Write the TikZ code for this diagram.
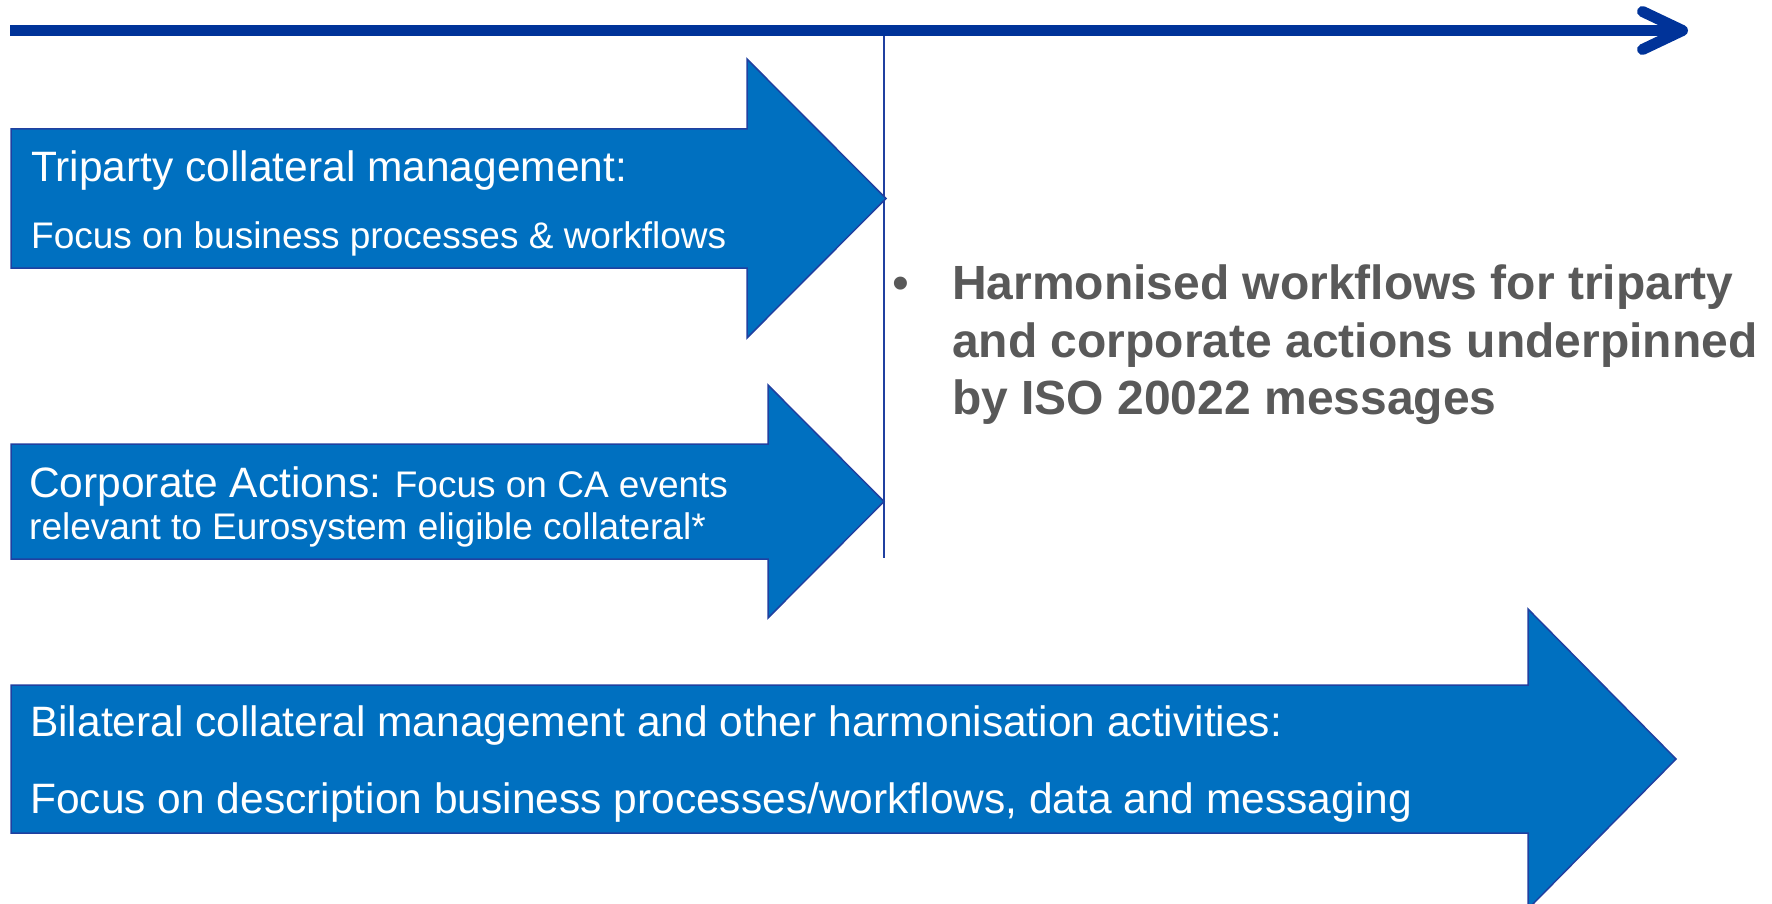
\documentclass[tikz,border=0pt]{standalone}
\usepackage{fontspec}
\setmainfont{Liberation Sans}
\usetikzlibrary{arrows.meta}
\definecolor{ecbfill}{RGB}{0,112,192}
\definecolor{ecbdark}{RGB}{0,51,153}
\definecolor{ecbline}{RGB}{32,64,160}
\definecolor{bulletgray}{RGB}{89,89,89}
\tikzset{
  blockarrow/.style={fill=ecbfill, draw=ecbline, line width=1.5pt, line join=miter},
  headtext/.style={anchor=base west, text=white, inner sep=0pt, font=\fontsize{42.5}{45}\selectfont},
  subtext/.style={anchor=base west, text=white, inner sep=0pt, font=\fontsize{37}{40}\selectfont},
  bullettext/.style={anchor=base west, inner sep=0pt, text=bulletgray, font=\fontsize{48}{57.5}\selectfont\bfseries},
  timeaxis/.style={draw=ecbdark, line width=11pt, -{Straight Barb[round, length=40pt, width=38pt]}}
}
\begin{document}
\begin{tikzpicture}[x=1pt,y=-1pt]
\useasboundingbox (0,0) rectangle (1772,904);
\clip (0,0) rectangle (1772,904);

% time axis and cut-off line
\coordinate (axisstart) at (10,30.5);
\coordinate (axisend) at (1688,30.5);
\coordinate (cuttop) at (884,36);
\coordinate (cutbot) at (884,558);
\draw[timeaxis] (axisstart) -- (axisend);
\draw[ecbline, line width=1.5pt] (cuttop) -- (cutbot);

% block arrows
\draw[blockarrow] (11,129) -- (747,129) -- (747,59) -- (886,198.5)
  -- (747,338) -- (747,268) -- (11,268) -- cycle;
\draw[blockarrow] (11,444) -- (768,444) -- (768,385) -- (884,501.5)
  -- (768,618) -- (768,559) -- (11,559) -- cycle;
\draw[blockarrow] (11,685) -- (1528,685) -- (1528,609) -- (1676,759)
  -- (1528,909) -- (1528,833) -- (11,833) -- cycle;

% texts
\node[headtext] (tripartyhead) at (31,182) {Triparty collateral management:};
\node[subtext] (tripartysub) at (31,248) {Focus on business processes \& workflows};
\node[headtext] (corphead) at (29,497) {Corporate Actions:{\fontsize{37}{40}\selectfont{} Focus on CA events}};
\node[subtext] (corpsub) at (29,539) {relevant to Eurosystem eligible collateral*};
\node[headtext] (bilathead) at (30,736) {Bilateral collateral management and other harmonisation activities:};
\node[headtext] (bilatsub) at (30,813) {Focus on description business processes/workflows, data and messaging};

\node[bullettext] (harmtext) at (952,299) {Harmonised workflows for triparty};
\node[bullettext] (harmtextb) at (952,357) {and corporate actions underpinned};
\node[bullettext] (harmtextc) at (952,414) {by ISO 20022 messages};
\node[bullettext, font=\fontsize{48}{57.5}\selectfont] (harmbullet) at (892,299) {\textbullet};
\end{tikzpicture}
\end{document}
